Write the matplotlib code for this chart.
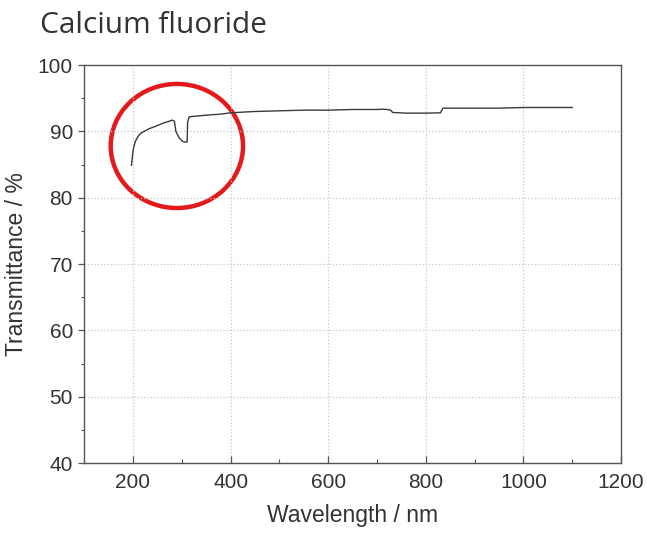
import matplotlib
matplotlib.use("Agg")
import matplotlib.pyplot as plt
from matplotlib.patches import Ellipse
import numpy as np

# transmission curve
wavelength = [197, 199, 201, 205, 210, 216, 223, 233, 244, 254, 264, 273, 281,
              285, 288, 292, 295, 299, 302, 306, 311, 312, 315, 330, 343, 360,
              380, 400, 450, 500, 550, 600, 650, 700, 712, 720, 728, 732,
              760, 800, 830, 835, 870, 950, 1000, 1050, 1100]
transmittance = [84.9, 86.3, 87.4, 88.5, 89.2, 89.7, 90.0, 90.4, 90.7, 91.0, 91.3,
                 91.5, 91.7, 91.5, 90.0, 89.4, 89.0, 88.7, 88.5, 88.4, 88.4, 91.3,
                 92.2, 92.3, 92.4, 92.5, 92.6, 92.8, 93.0, 93.1, 93.2, 93.2, 93.3,
                 93.3, 93.35, 93.3, 93.2, 92.85, 92.75, 92.75, 92.8, 93.5, 93.5,
                 93.5, 93.6, 93.6, 93.6]

x_major = [200, 400, 600, 800, 1000, 1200]
y_major = [40, 50, 60, 70, 80, 90, 100]

plt.rcParams['font.family'] = ['Liberation Sans', 'DejaVu Sans']

fig = plt.figure(figsize=(6.47, 5.33), dpi=100)
ax = fig.add_axes([0.130, 0.131, 0.830, 0.747])

ax.plot(wavelength, transmittance, color='#3a3a3a', lw=1.0)

ax.set_xlim(100, 1200)
ax.set_ylim(40, 100)
ax.set_xticks(x_major)
ax.set_xticks(np.arange(300, 1200, 200), minor=True)
ax.set_yticks(y_major)
ax.set_yticks(np.arange(45, 100, 10), minor=True)

ax.grid(True, which='major', linestyle=':', color='#c8c8c8', lw=0.9)
ax.tick_params(axis='x', which='major', direction='in', length=5, width=0.9,
               labelsize=15, colors='#555555', labelcolor='#333333', pad=7)
ax.tick_params(axis='x', which='minor', direction='in', length=3, width=0.8,
               colors='#555555')
ax.tick_params(axis='y', which='major', direction='out', length=4, width=0.9,
               labelsize=15, colors='#555555', labelcolor='#333333', pad=4)
ax.tick_params(axis='y', which='minor', direction='out', length=2.5, width=0.8,
               colors='#555555')
for s in ax.spines.values():
    s.set_color('#555555')
    s.set_linewidth(1.0)

ax.set_xlabel('Wavelength / nm', fontsize=16.5, color='#333333', labelpad=9)
ax.set_ylabel('Transmittance / %', fontsize=16.5, color='#333333', labelpad=7)

# red highlight circle around the UV region
ax.add_patch(Ellipse((290, 87.8), 271, 18.7, fill=False, edgecolor='#e3191c',
                     lw=3.2, clip_on=False))

fig.text(0.062, 0.938, 'Calcium fluoride', fontsize=21.5, color='#333333',
         family=['Open Sans', 'DejaVu Sans'], va='baseline')

fig.savefig('out.png', dpi=100)
